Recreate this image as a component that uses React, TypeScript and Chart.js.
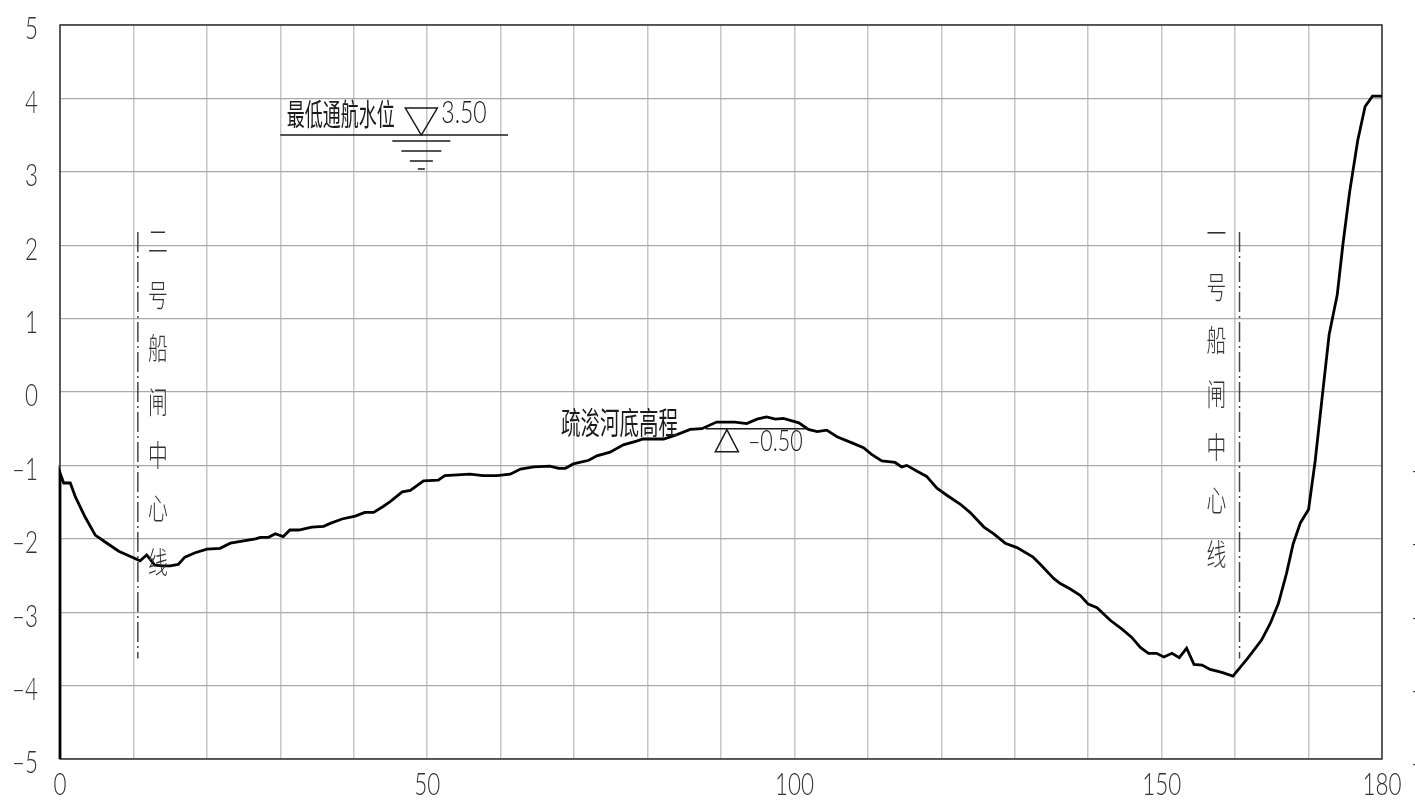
import { useEffect, useRef } from 'react';
import { Chart, registerables } from 'chart.js';

Chart.register(...registerables);

// ---- data ----
const stations = [
  0, 0, 0.5, 1.4, 2.1, 3.4, 4.8, 6.1, 8.0, 9.6, 10.9, 11.8, 12.9, 13.9, 15.0, 16.1, 17.0, 18.4, 20.0,
  21.8, 23.2, 24.8, 26.6, 27.3, 28.4, 29.3, 30.4, 31.3, 32.5, 34.3, 35.9, 36.8, 38.4, 40.2, 41.5, 42.7,
  44.0, 45.0, 46.6, 47.7, 49.5, 51.5, 52.4, 54.1, 55.8, 57.6, 59.5, 61.3, 62.7, 64.5, 66.7, 67.9, 68.8,
  69.9, 72.0, 73.1, 74.9, 76.7, 78.5, 79.4, 82.2, 84.0, 85.8, 87.4, 89.4, 91.9, 93.5, 94.9, 96.2, 97.4,
  98.5, 100.6, 101.9, 103.1, 104.4, 105.8, 108.0, 109.4, 110.5, 111.9, 113.7, 114.6, 115.3, 116.7,
  118.0, 119.4, 120.8, 122.6, 123.9, 125.8, 127.1, 128.7, 130.3, 132.5, 133.4, 135.3, 136.2, 137.5,
  138.9, 140.0, 141.2, 143.0, 144.6, 145.9, 147.1, 148.2, 149.3, 150.3, 151.4, 152.4, 153.4, 154.4,
  155.5, 156.6, 158.2, 159.7, 161.7, 163.6, 164.8, 165.9, 167.0, 167.9, 168.9, 170.0, 170.9, 171.9,
  172.8, 173.9, 174.7, 175.6, 176.7, 177.7, 178.7, 180.0,
];
const elevations = [
  -5.0, -1.10, -1.24, -1.24, -1.43, -1.70, -1.95, -2.04, -2.17, -2.24, -2.30, -2.22, -2.36, -2.37, -2.37,
  -2.35, -2.25, -2.19, -2.14, -2.13, -2.06, -2.03, -2.00, -1.98, -1.98, -1.93, -1.97, -1.88, -1.88, -1.84,
  -1.83, -1.79, -1.73, -1.69, -1.64, -1.64, -1.56, -1.49, -1.36, -1.34, -1.21, -1.20, -1.14, -1.13, -1.12,
  -1.14, -1.14, -1.12, -1.05, -1.02, -1.01, -1.04, -1.04, -0.98, -0.93, -0.87, -0.82, -0.72, -0.67, -0.64,
  -0.64, -0.58, -0.51, -0.50, -0.41, -0.41, -0.43, -0.37, -0.34, -0.37, -0.36, -0.42, -0.51, -0.54, -0.52,
  -0.61, -0.70, -0.76, -0.85, -0.94, -0.96, -1.02, -1.00, -1.08, -1.15, -1.31, -1.41, -1.53, -1.64, -1.84,
  -1.93, -2.06, -2.12, -2.25, -2.34, -2.54, -2.61, -2.68, -2.77, -2.89, -2.94, -3.11, -3.23, -3.34, -3.48,
  -3.56, -3.56, -3.61, -3.56, -3.62, -3.49, -3.71, -3.72, -3.78, -3.82, -3.87, -3.63, -3.38, -3.15, -2.88,
  -2.47, -2.07, -1.78, -1.60, -0.94, -0.03, 0.78, 1.32, 2.03, 2.73, 3.43, 3.89, 4.03, 4.03,
];

const xTickValues = [0, 50, 100, 150, 180];
const xTickLabels = ['0', '50', '100', '150', '180'];
const yTickValues = [5, 4, 3, 2, 1, 0, -1, -2, -3, -4, -5];
const yTickLabels = ['5', '4', '3', '2', '1', '0', '-1', '-2', '-3', '-4', '-5'];

const waterLevel = 3.5;
const waterLevelText = '最低通航水位';
const waterLevelValue = '3.50';
const waterLineFrom = 30;
const waterLineTo = 61;
const waterMarkX = 49.2;

const dredgeLevel = -0.5;
const dredgeText = '疏浚河底高程';
const dredgeValue = '-0.50';
const dredgeLineFrom = 87.9;
const dredgeLineTo = 101.8;
const dredgeMarkX = 90.8;
const dredgeTextX = 68.2;

const lockLineX = [10.6, 160.6];
const lockLineTop = 2.18;
const lockLineBottom = -3.63;
const lockLabels = ['二号船闸中心线', '一号船闸中心线'];

const NUM_FONT = "300 32px Lato, 'Liberation Sans', sans-serif";
const CJK = "'Noto Sans CJK SC', sans-serif";

function condText(
  ctx: CanvasRenderingContext2D,
  text: string,
  x: number,
  y: number,
  font: string,
  sx: number,
  align: 'left' | 'right' | 'center',
  baseline: CanvasTextBaseline = 'middle'
) {
  ctx.save();
  ctx.font = font;
  const shown = text.replace('-', '–');
  const w = ctx.measureText(shown).width * sx;
  const left = align === 'left' ? x : align === 'right' ? x - w : x - w / 2;
  ctx.translate(left, y);
  ctx.scale(sx, 1);
  ctx.textAlign = 'left';
  ctx.textBaseline = baseline;
  ctx.fillText(shown, 0, 0);
  ctx.restore();
}

const framePlugin = {
  id: 'frame',
  beforeDatasetsDraw(chart: any) {
    const { ctx, chartArea: a } = chart;
    ctx.save();
    ctx.strokeStyle = '#333';
    ctx.lineWidth = 1.5;
    ctx.strokeRect(a.left, a.top, a.right - a.left, a.bottom - a.top);
    ctx.restore();
  },
};

const annotPlugin = {
  id: 'annot',
  afterDraw(chart: any) {
    const { ctx, chartArea: a } = chart;
    const xs = chart.scales.x;
    const ys = chart.scales.y;
    ctx.save();

    // tick labels
    ctx.fillStyle = '#333';
    yTickValues.forEach((v, i) => {
      const py = ys.getPixelForValue(v) + 4;
      condText(ctx, yTickLabels[i], a.left - 22, py, NUM_FONT, 0.7, 'right');
      if (v < 0) condText(ctx, '-', a.right + 29, py + 1, NUM_FONT, 0.7, 'left');
    });
    xTickValues.forEach((v, i) => {
      condText(ctx, xTickLabels[i], xs.getPixelForValue(v), a.bottom + 26, NUM_FONT, 0.7, 'center');
    });

    ctx.fillStyle = '#1a1a1a';
    ctx.strokeStyle = '#1a1a1a';

    // water level
    const wy = ys.getPixelForValue(waterLevel);
    ctx.lineWidth = 1.5;
    ctx.beginPath();
    ctx.moveTo(xs.getPixelForValue(waterLineFrom), wy);
    ctx.lineTo(xs.getPixelForValue(waterLineTo), wy);
    const mx = xs.getPixelForValue(waterMarkX);
    [[6, 29], [16, 20], [26, 11.5], [34, 3.5]].forEach(([dy, hw]) => {
      ctx.moveTo(mx - hw, wy + dy);
      ctx.lineTo(mx + hw, wy + dy);
    });
    ctx.stroke();
    ctx.beginPath();
    ctx.moveTo(mx, wy);
    ctx.lineTo(mx - 16, wy - 27);
    ctx.lineTo(mx + 16, wy - 27);
    ctx.closePath();
    ctx.stroke();
    condText(ctx, waterLevelText, xs.getPixelForValue(waterLineFrom) + 6.5, wy - 22, `400 30px ${CJK}`, 0.6, 'left');
    condText(ctx, waterLevelValue, mx + 20, wy - 22, "300 31px Lato, 'Liberation Sans', sans-serif", 0.74, 'left');

    // dredge level
    const dy0 = ys.getPixelForValue(dredgeLevel);
    ctx.beginPath();
    ctx.moveTo(xs.getPixelForValue(dredgeLineFrom), dy0);
    ctx.lineTo(xs.getPixelForValue(dredgeLineTo), dy0);
    ctx.stroke();
    const dx = xs.getPixelForValue(dredgeMarkX);
    ctx.beginPath();
    ctx.moveTo(dx, dy0 + 1);
    ctx.lineTo(dx - 11.5, dy0 + 23);
    ctx.lineTo(dx + 11.5, dy0 + 23);
    ctx.closePath();
    ctx.stroke();
    condText(ctx, dredgeValue, dx + 21, dy0 + 13, "300 29px Lato, 'Liberation Sans', sans-serif", 0.74, 'left');
    condText(ctx, dredgeText, xs.getPixelForValue(dredgeTextX), dy0 - 6, `400 31px ${CJK}`, 0.63, 'left');

    // lock centre lines
    ctx.strokeStyle = '#444';
    ctx.lineWidth = 1.5;
    ctx.setLineDash([20, 4, 2, 4]);
    lockLineX.forEach((lx) => {
      const px = xs.getPixelForValue(lx);
      ctx.beginPath();
      ctx.moveTo(px, ys.getPixelForValue(lockLineTop));
      ctx.lineTo(px, ys.getPixelForValue(lockLineBottom));
      ctx.stroke();
    });
    ctx.setLineDash([]);
    ctx.fillStyle = '#333';
    lockLabels.forEach((label, k) => {
      const px = xs.getPixelForValue(lockLineX[k]) + (k === 0 ? 20 : -23);
      const top = ys.getPixelForValue(lockLineTop) + (k === 0 ? 9 : 1);
      Array.from(label).forEach((ch, j) => {
        condText(ctx, ch, px, top + j * 53.4, `300 30px ${CJK}`, 0.66, 'center');
      });
    });

    ctx.restore();
  },
};

export default function App() {
  const ref = useRef<HTMLCanvasElement | null>(null);
  useEffect(() => {
    if (!ref.current) return;
    const chart = new Chart(ref.current, {
      type: 'line',
      data: {
        datasets: [
          {
            data: stations.map((x, i) => ({ x, y: elevations[i] })),
            borderColor: '#000',
            borderWidth: 2.8,
            pointRadius: 0,
            tension: 0,
            fill: false,
            clip: 4,
          } as any,
        ],
      },
      options: {
        animation: false,
        responsive: false,
        devicePixelRatio: 1,
        layout: { padding: { left: 60, top: 25, right: 33, bottom: 51 } },
        plugins: { legend: { display: false }, tooltip: { enabled: false } },
        scales: {
          x: {
            type: 'linear',
            min: 0,
            max: 180,
            ticks: { display: false, stepSize: 10 },
            grid: { color: '#c6c6c6', lineWidth: 1.5, drawTicks: false },
            border: { display: false },
          },
          y: {
            type: 'linear',
            min: -5,
            max: 5,
            ticks: { display: false, stepSize: 1 },
            grid: { color: '#a9a9a9', lineWidth: 1.3, drawTicks: false },
            border: { display: false },
          },
        },
      },
      plugins: [framePlugin, annotPlugin],
    });
    return () => chart.destroy();
  }, []);
  return (
    <div style={{ position: 'fixed', left: 0, top: 0, width: 1415, height: 810, background: '#fff' }}>
      <canvas ref={ref} width={1415} height={810} style={{ display: 'block', width: 1415, height: 810 }} />
    </div>
  );
}
